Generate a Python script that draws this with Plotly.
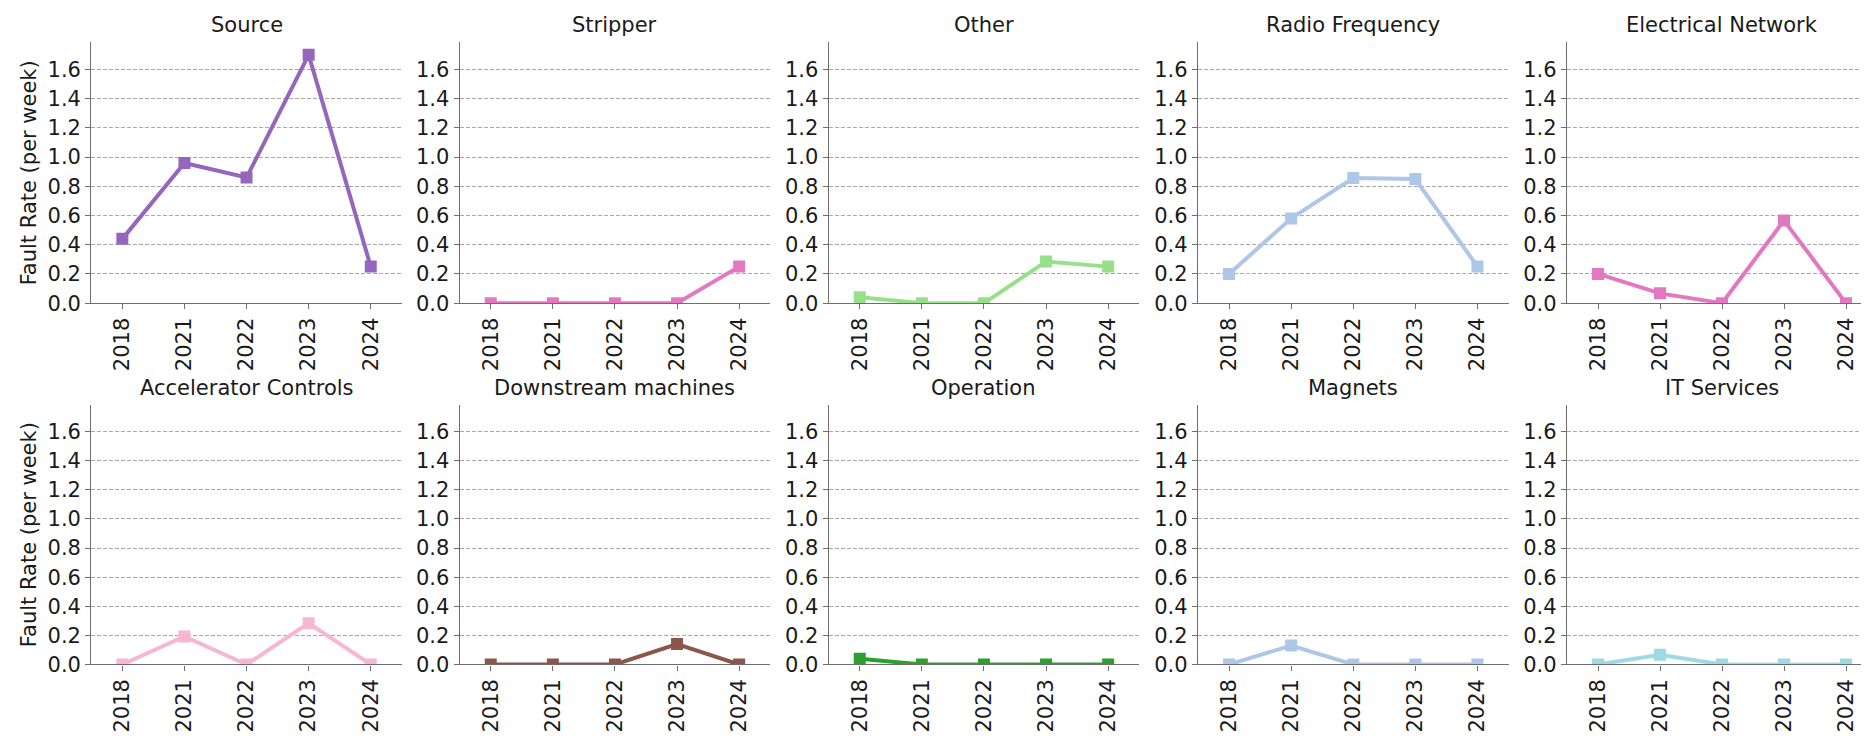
import plotly.graph_objects as go

years = ["2018", "2021", "2022", "2023", "2024"]

source = [0.44, 0.96, 0.86, 1.70, 0.25]
stripper = [0.0, 0.0, 0.0, 0.0, 0.25]
other = [0.04, 0.0, 0.0, 0.285, 0.25]
radio_frequency = [0.20, 0.58, 0.857, 0.85, 0.25]
electrical_network = [0.20, 0.067, 0.0, 0.566, 0.0]
accelerator_controls = [0.0, 0.193, 0.0, 0.284, 0.0]
downstream_machines = [0.0, 0.0, 0.0, 0.14, 0.0]
operation = [0.04, 0.0, 0.0, 0.0, 0.0]
magnets = [0.0, 0.13, 0.0, 0.0, 0.0]
it_services = [0.0, 0.067, 0.0, 0.0, 0.0]

titles = ["Source", "Stripper", "Other", "Radio Frequency", "Electrical Network",
          "Accelerator Controls", "Downstream machines", "Operation", "Magnets", "IT Services"]
series = [source, stripper, other, radio_frequency, electrical_network,
          accelerator_controls, downstream_machines, operation, magnets, it_services]
colors = ["#9467bd", "#e377c2", "#98df8a", "#aec7e8", "#e377c2",
          "#f7b6d2", "#8c564b", "#2ca02c", "#aec7e8", "#9edae5"]

y_ticks = [0.0, 0.2, 0.4, 0.6, 0.8, 1.0, 1.2, 1.4, 1.6]
y_max = 1.785

W, H = 1869, 741
left_px = [83.3, 451.7, 820.7, 1190.0, 1559.0]
panel_w = 310.5
rows_px = [(35.0, 300.0), (403.3, 667.3)]

FONT = "DejaVu Sans"
FS = 21
SPINE = "#6e6e6e"
TXT = "#1a1a1a"

fig = go.Figure()
layout = dict(
    width=W, height=H,
    margin=dict(l=0, r=0, t=0, b=0),
    paper_bgcolor="white", plot_bgcolor="white",
    showlegend=False,
    font=dict(family=FONT, size=FS, color=TXT),
)
annotations = []

for i, (title, vals, col) in enumerate(zip(titles, series, colors)):
    r, c = divmod(i, 5)
    n = i + 1
    xa = "xaxis" if n == 1 else f"xaxis{n}"
    ya = "yaxis" if n == 1 else f"yaxis{n}"
    xref = "x" if n == 1 else f"x{n}"
    yref = "y" if n == 1 else f"y{n}"
    x0 = left_px[c] / W
    x1 = min(1.0, (left_px[c] + panel_w) / W)
    top, bot = rows_px[r]
    y0 = (H - bot) / H
    y1 = (H - top) / H

    fig.add_trace(go.Scatter(
        x=years, y=vals, mode="lines+markers",
        line=dict(color=col, width=4),
        marker=dict(symbol="square", size=12, color=col),
        xaxis=xref, yaxis=yref, cliponaxis=True,
    ))

    layout[xa] = dict(
        domain=[x0, x1], anchor=yref, type="category",
        categoryorder="array", categoryarray=years,
        range=[-0.5, 4.5],
        showline=True, linecolor=SPINE, linewidth=1.3,
        ticks="outside", ticklen=5, tickwidth=1.3, tickcolor=SPINE,
        tickangle=-90, showgrid=False, zeroline=False,
        tickfont=dict(family=FONT, size=FS, color=TXT),
        fixedrange=True,
    )
    layout[ya] = dict(
        domain=[y0, y1], anchor=xref,
        range=[0, y_max],
        tickvals=y_ticks, ticktext=[f"{v:.1f}" for v in y_ticks],
        showline=True, linecolor=SPINE, linewidth=1.3,
        ticks="outside", ticklen=5, tickwidth=1.3, tickcolor=SPINE,
        showgrid=True, gridcolor="#a8a8a8", gridwidth=1, griddash="4px,2px",
        zeroline=False,
        tickfont=dict(family=FONT, size=FS, color=TXT),
        fixedrange=True,
    )
    if c == 0:
        layout[ya]["title"] = dict(text="Fault Rate (per week)",
                                   font=dict(family=FONT, size=FS, color=TXT),
                                   standoff=5)
    annotations.append(dict(
        text=title, x=(x0 + x1) / 2, y=y1, xref="paper", yref="paper",
        xanchor="center", yanchor="bottom", yshift=3, showarrow=False,
        font=dict(family=FONT, size=FS, color=TXT),
    ))

layout["annotations"] = annotations
fig.update_layout(**layout)
fig.write_html("out.html")
